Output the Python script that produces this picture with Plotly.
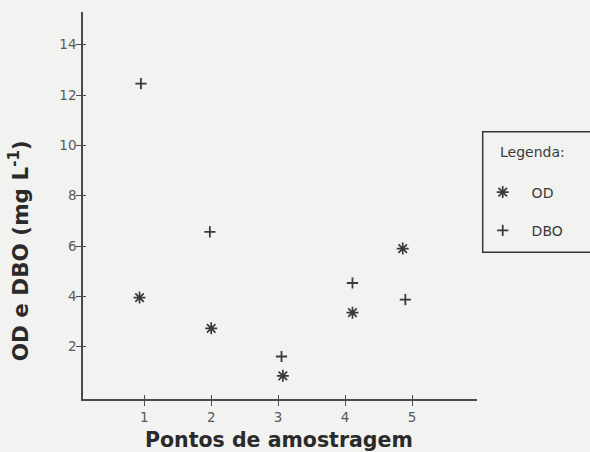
import plotly.graph_objects as go

# Data
od_x = [0.93, 2.00, 3.07, 4.11, 4.86]
od_y = [3.95, 2.73, 0.84, 3.35, 5.90]
dbo_x = [0.95, 1.98, 3.05, 4.11, 4.90]
dbo_y = [12.45, 6.56, 1.61, 4.53, 3.87]
x_ticks = [1, 2, 3, 4, 5]
y_ticks = [2, 4, 6, 8, 10, 12, 14]

BG = "#f2f2f0"
INK = "#3a3a3a"
FONT = "DejaVu Sans"

fig = go.Figure()
fig.add_trace(go.Scatter(
    x=od_x, y=od_y, mode="markers", name="\u00a0\u00a0OD", legendgroup="a",
    marker=dict(symbol="asterisk-open", size=10, color=INK,
                line=dict(color=INK, width=1.7)),
))
fig.add_trace(go.Scatter(
    x=dbo_x, y=dbo_y, mode="markers", name="\u00a0\u00a0DBO", legendgroup="b",
    marker=dict(symbol="cross-thin-open", size=8, color=INK,
                line=dict(color=INK, width=1.8)),
))

axis_common = dict(showgrid=False, zeroline=False, showline=True,
                   linecolor="#4a4a4a", linewidth=1.6,
                   ticks="outside", ticklen=5, tickwidth=1.3, tickcolor="#4a4a4a",
                   tickfont=dict(family=FONT, size=13.5, color="#5a5a5a"))

fig.update_layout(
    width=590, height=452,
    margin=dict(l=83, r=113, t=12, b=53, autoexpand=False),
    paper_bgcolor=BG, plot_bgcolor=BG,
    xaxis=dict(range=[0.085, 5.97], tickvals=x_ticks, ticklabelstandoff=0,
               **axis_common),
    yaxis=dict(range=[-0.08, 15.3], tickvals=y_ticks, ticklabelstandoff=-3,
               **axis_common),
    xaxis2=dict(range=[0.085, 5.97], overlaying="x", tickvals=x_ticks,
                showticklabels=False, showgrid=False, zeroline=False,
                ticks="inside", ticklen=4, tickwidth=1.3, tickcolor="#4a4a4a",
                side="bottom", anchor="y"),
    yaxis2=dict(range=[-0.08, 15.3], overlaying="y", tickvals=y_ticks,
                showticklabels=False, showgrid=False, zeroline=False,
                ticks="inside", ticklen=3, tickwidth=1.3, tickcolor="#4a4a4a",
                side="left", anchor="x"),
    showlegend=True,
    legend=dict(
        x=1.0145, y=0.575, xanchor="left", yanchor="top",
        bgcolor="rgba(0,0,0,0)", borderwidth=0,
        font=dict(family=FONT, size=14, color=INK),
        tracegroupgap=17, entrywidth=80,
    ),
    shapes=[
        dict(type="rect", xref="paper", yref="paper",
             x0=1.0145, x1=1.30, y0=(399 - 252.3) / 387, y1=(399 - 131.7) / 387,
             line=dict(color="#3a3a3a", width=1.5), fillcolor="rgba(0,0,0,0)",
             layer="below"),
    ],
    annotations=[
        dict(text="Legenda:", xref="paper", yref="paper",
             x=(498 - 83) / 394, y=(399 - 152) / 387, xanchor="left",
             yanchor="middle", showarrow=False,
             font=dict(family=FONT, size=14, color=INK)),
        dict(text="Pontos de amostragem", xref="paper", yref="paper",
             x=0.4975, y=-0.1047, xanchor="center", yanchor="middle",
             showarrow=False,
             font=dict(family=FONT, size=20.5, color="#2a2a2a", weight="bold")),
        dict(text="OD e DBO (mg L<sup>-1</sup>)", xref="paper", yref="paper",
             x=-0.162, y=0.382, xanchor="center", yanchor="middle",
             textangle=-90, showarrow=False,
             font=dict(family=FONT, size=21.5, color="#2a2a2a", weight="bold")),
    ],
)
# invisible trace so the overlay axes (ticks crossing the axis line) render
fig.add_trace(go.Scatter(x=[None], y=[None], xaxis="x2", yaxis="y2",
                         showlegend=False, hoverinfo="skip"))

fig.write_html("out.html", config={"displayModeBar": False},
               post_script="document.body.style.margin='0px';document.body.style.overflow='hidden';")
